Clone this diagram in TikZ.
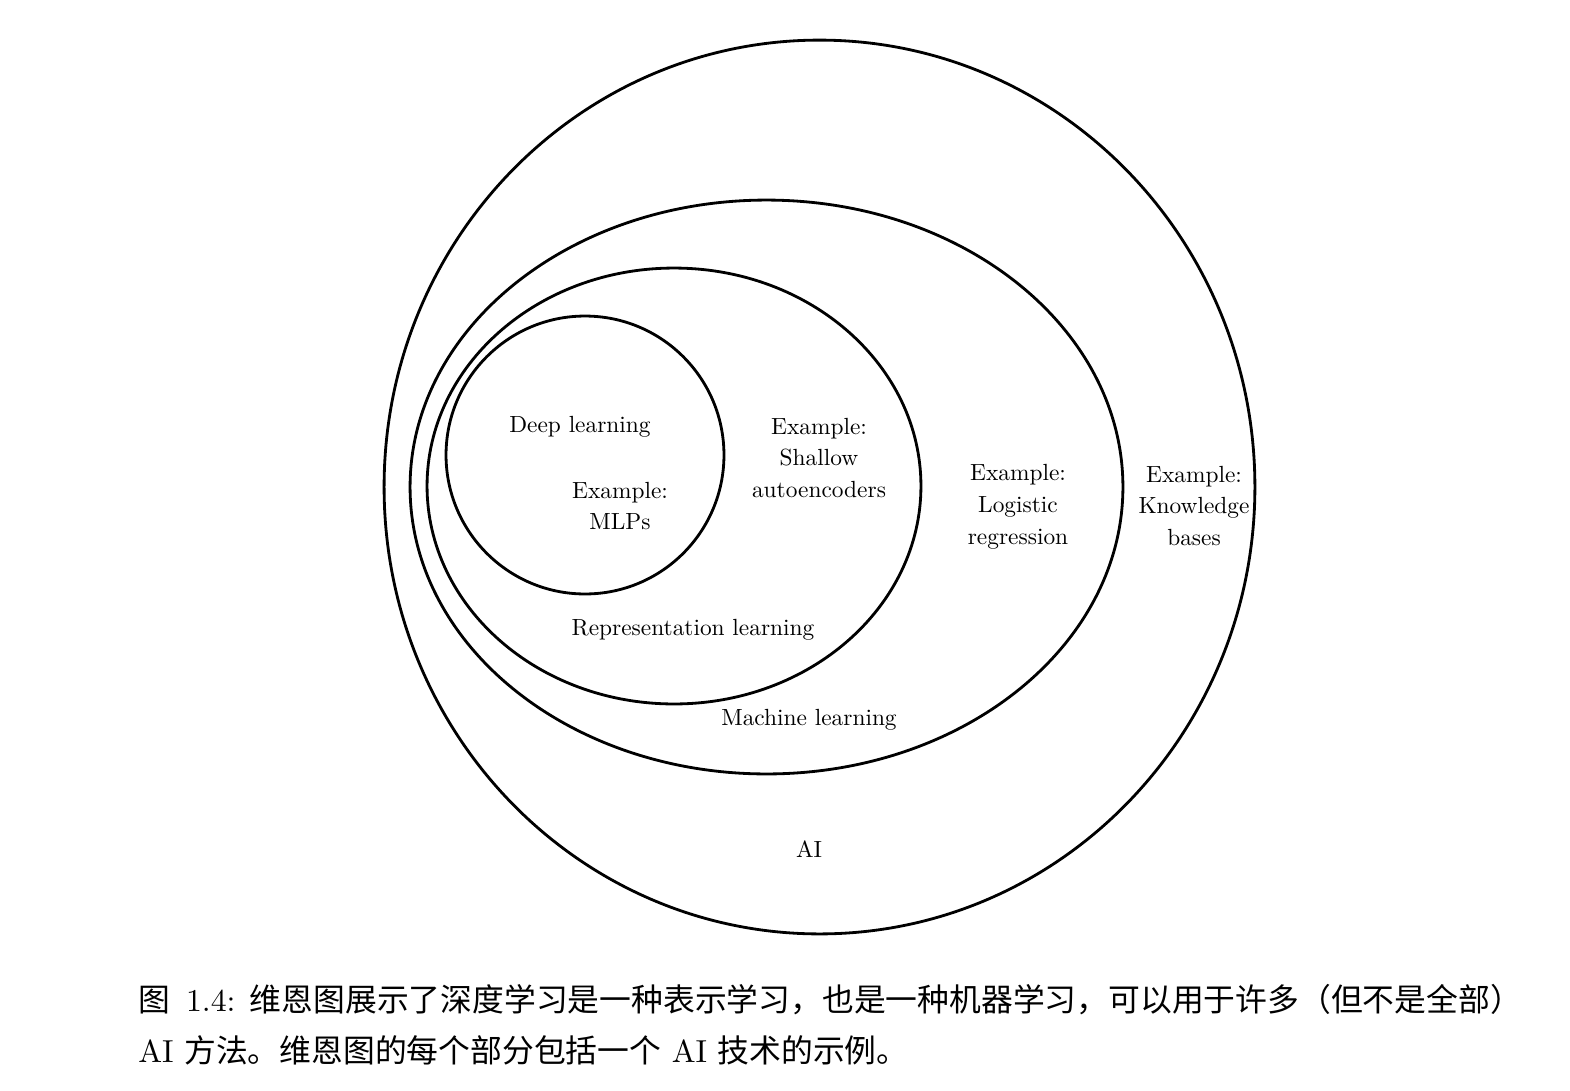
\documentclass[tikz,border=0pt]{standalone}
\usepackage{fontspec}
\setmainfont{lmroman10-regular}[Extension=.otf]
\newfontfamily\cjk{Noto Sans CJK SC}
\tikzset{
  venn/.style={line width=1.6pt},
  lbl/.style={align=center,inner sep=0pt,font=\fontsize{13.3}{18.2}\selectfont},
  capline/.style={anchor=base west,inner sep=0pt,font=\fontsize{18.1}{29}\selectfont}
}
\begin{document}
\begin{tikzpicture}[x=0.02cm,y=-0.02cm]
		\useasboundingbox (0,0) rectangle (1570,1090);
		% sets
		\draw[venn] (819.5,487) ellipse [x radius=8.71cm,y radius=8.94cm];
		\draw[venn] (766.5,487) ellipse [x radius=7.13cm,y radius=5.74cm];
		\draw[venn] (674,486) ellipse [x radius=4.94cm,y radius=4.36cm];
		\draw[venn] (585,455) ellipse [x radius=2.78cm,y radius=2.78cm];
		% set names
		\node[lbl] (dl) at (580,427) {Deep learning};
		\node[lbl] (rl) at (693,630) {Representation learning};
		\node[lbl] (ml) at (809,720) {Machine learning};
		\node[lbl] (ai) at (809,849) {AI};
		% examples
		\node[lbl] (mlp) at (620,506) {Example:\\MLPs};
		\node[lbl] (sae) at (819,458) {Example:\\Shallow\\autoencoders};
		\node[lbl] (lr) at (1018,507) {Example:\\Logistic\\regression};
		\node[lbl] (kb) at (1194,506) {Example:\\Knowledge\\bases};
		% caption
		\node[capline] (capa) at (138,1011) {{\cjk 图}\hspace{0.5em}1.4:\hspace{0.45em}{\cjk 维恩图展示了深度学习是一种表示学习，也是一种机器学习，可以用于许多（但不是全部）}};
		\node[capline] (capb) at (138,1062) {AI {\cjk 方法。维恩图的每个部分包括一个} AI {\cjk 技术的示例。}};
	\end{tikzpicture}
\end{document}
